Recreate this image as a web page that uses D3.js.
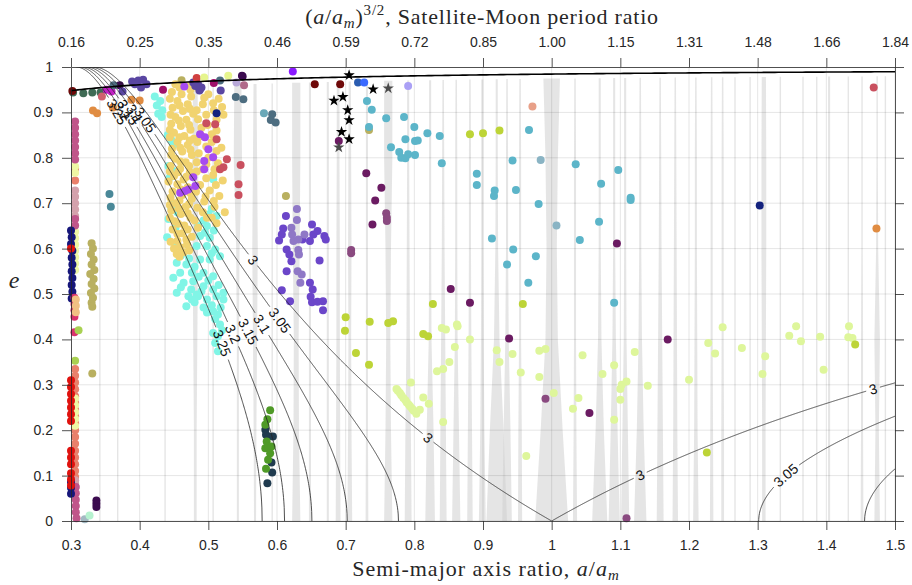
<!DOCTYPE html>
<html><head><meta charset="utf-8">
<script src="https://cdn.jsdelivr.net/npm/d3@7"></script>
<style>body{margin:0;background:#fff;}svg{display:block;}</style>
</head><body>
<svg id="chart" width="912" height="585"></svg>
<script>
// ---------------- DATA ----------------
const aTicks = [0.3,0.4,0.5,0.6,0.7,0.8,0.9,1.0,1.1,1.2,1.3,1.4,1.5];
const aTickLabels = ["0.3","0.4","0.5","0.6","0.7","0.8","0.9","1","1.1","1.2","1.3","1.4","1.5"];
const periodTickLabels = ["0.16","0.25","0.35","0.46","0.59","0.72","0.85","1.00","1.15","1.31","1.48","1.66","1.84"];
const eTicks = [0,0.1,0.2,0.3,0.4,0.5,0.6,0.7,0.8,0.9,1];
const eTickLabels = ["0","0.1","0.2","0.3","0.4","0.5","0.6","0.7","0.8","0.9","1"];

const contourLevels = [3, 3.05, 3.1, 3.15, 3.2, 3.25];
const contourLabelLevels = [3, 3, 3, 3, 3.05, 3.05, 3.05, 3.1, 3.1, 3.15, 3.15, 3.2, 3.2, 3.25, 3.25];
const contourLabelA      = [0.565, 0.82, 1.129, 1.468, 0.604, 0.408, 1.341, 0.578, 0.393, 0.558, 0.383, 0.536, 0.374, 0.520, 0.367];
const periLineQ = 0.0156; // e = 1 - q/a

const bandE = [0,0.2,0.4,0.6,0.8,1.0];
const bandCenters = [0.342,0.368,0.437,0.481,0.507,0.543,0.568,0.593,0.628,0.648,0.674,0.689,0.706,0.731,0.762,0.791,0.823,0.842,0.861,0.881,0.899,0.920,0.935,0.954,1.000,1.034,1.070,1.091,1.107,1.129,1.158,1.180,1.210,1.233,1.249,1.267,1.289,1.309,1.333,1.366,1.386,1.404,1.432,1.452,1.474,1.486];
const bandWidths = [
 [0.002,0.002,0.002,0.002,0.002,0.002],[0.002,0.002,0.002,0.002,0.002,0.002],[0.002,0.002,0.002,0.002,0.002,0.002],
 [0.004,0.004,0.006,0.008,0.009,0.006],[0.002,0.002,0.002,0.002,0.002,0.002],[0.003,0.003,0.003,0.005,0.012,0.010],
 [0.003,0.004,0.006,0.008,0.006,0.004],[0.002,0.002,0.002,0.002,0.002,0.002],[0.012,0.008,0.007,0.010,0.012,0.012],
 [0.003,0.003,0.003,0.003,0.003,0.003],[0.003,0.003,0.003,0.003,0.003,0.003],[0.007,0.006,0.005,0.005,0.004,0.004],
 [0.007,0.005,0.004,0.005,0.004,0.003],[0.004,0.003,0.003,0.003,0.003,0.003],[0.012,0.008,0.006,0.008,0.012,0.012],
 [0.010,0.008,0.005,0.004,0.003,0.003],[0.014,0.010,0.004,0.003,0.003,0.003],[0.010,0.008,0.006,0.004,0.003,0.002],
 [0.012,0.008,0.004,0.003,0.003,0.002],[0.008,0.006,0.004,0.003,0.003,0.002],[0.010,0.006,0.004,0.003,0.003,0.003],
 [0.030,0.020,0.008,0.004,0.003,0.003],[0.014,0.010,0.005,0.003,0.003,0.002],[0.006,0.005,0.003,0.003,0.003,0.002],
 [0.048,0.032,0.018,0.015,0.018,0.025],[0.006,0.004,0.003,0.003,0.003,0.002],[0.022,0.012,0.005,0.003,0.003,0.003],
 [0.016,0.010,0.005,0.003,0.003,0.003],[0.012,0.008,0.004,0.003,0.003,0.003],[0.018,0.010,0.005,0.003,0.003,0.002],
 [0.010,0.008,0.006,0.004,0.003,0.002],[0.008,0.006,0.005,0.004,0.003,0.002],[0.008,0.005,0.004,0.003,0.003,0.002],
 [0.005,0.004,0.003,0.003,0.003,0.002],[0.004,0.004,0.003,0.003,0.003,0.002],[0.002,0.002,0.002,0.002,0.002,0.002],
 [0.002,0.002,0.002,0.002,0.002,0.002],[0.005,0.005,0.006,0.007,0.007,0.006],[0.002,0.002,0.002,0.002,0.002,0.002],
 [0.002,0.002,0.002,0.002,0.002,0.002],[0.002,0.002,0.002,0.002,0.002,0.002],[0.003,0.003,0.003,0.003,0.003,0.003],
 [0.002,0.002,0.002,0.002,0.002,0.002],[0.004,0.003,0.003,0.002,0.002,0.002],[0.008,0.005,0.008,0.003,0.002,0.002],
 [0.002,0.002,0.002,0.002,0.002,0.002]];

// satellites (a/a_m, e)
const leftSalmon = [[0.306,0.776],[0.306,0.750],[0.306,0.335],[0.306,0.320],[0.306,0.305],[0.306,0.290],[0.306,0.275],[0.306,0.260],[0.306,0.245],[0.306,0.230],[0.306,0.215],[0.306,0.200],[0.306,0.185],[0.306,0.170],[0.306,0.155],[0.306,0.140],[0.306,0.125],[0.306,0.110],[0.306,0.097]];
const leftPaleYellow = [[0.306,0.781],[0.306,0.767],[0.306,0.637],[0.306,0.623],[0.306,0.609],[0.306,0.595],[0.306,0.581],[0.306,0.567],[0.306,0.553],[0.306,0.270],[0.306,0.255],[0.306,0.240],[0.306,0.225],[0.306,0.210]];
const leftLightPink = [[0.306,0.728],[0.306,0.714],[0.306,0.700],[0.306,0.686],[0.306,0.672],[0.306,0.090],[0.306,0.082]];
const leftMauve = [[0.306,0.880],[0.306,0.866],[0.306,0.852],[0.306,0.838],[0.306,0.824],[0.306,0.810],[0.306,0.796],[0.306,0.665],[0.306,0.651],[0.307,0.075],[0.307,0.061],[0.307,0.047],[0.307,0.033],[0.307,0.019],[0.308,0.006]];
const leftNavy = [[0.300,0.640],[0.301,0.625],[0.300,0.610],[0.302,0.595],[0.301,0.580],[0.302,0.565],[0.301,0.550],[0.302,0.535],[0.301,0.520],[0.302,0.505],[0.301,0.490],[0.300,0.086],[0.300,0.073],[0.300,0.060]];
const leftRed = [[0.300,0.600],[0.300,0.310],[0.300,0.295],[0.300,0.280],[0.300,0.265],[0.300,0.250],[0.300,0.235],[0.300,0.220],[0.300,0.155],[0.300,0.140],[0.300,0.125],[0.300,0.105],[0.300,0.092],[0.300,0.078]];
const leftCrimson = [[0.305,0.492],[0.305,0.478],[0.305,0.464],[0.305,0.450],[0.305,0.416]];
const leftPeach = [[0.307,0.488],[0.307,0.474],[0.307,0.460]];
const leftLightGreen = [[0.311,0.420],[0.306,0.353]];
const olivePts = [[0.330,0.612],[0.332,0.600],[0.329,0.588],[0.333,0.576],[0.330,0.565],[0.334,0.553],[0.328,0.544],[0.333,0.533],[0.330,0.522],[0.334,0.512],[0.329,0.502],[0.332,0.492],[0.330,0.481],[0.331,0.472],[0.331,0.325],[0.613,0.716],[0.461,0.971],[0.734,0.861]];
const grayMint = [[0.320,0.004]];
const mintPts = [[0.327,0.012]];
const darkPurplePts = [[0.337,0.045],[0.337,0.038],[0.337,0.031],[0.371,0.960],[0.549,0.981],[0.550,0.979]];
const topRowGreen = [[0.303,0.944],[0.318,0.942],[0.331,0.944],[0.343,0.944]];
const darkRedPts = [[0.302,0.947],[0.655,0.962],[0.692,0.962]];
const pinkTop = [[0.345,0.935]];
const orangePts = [[0.332,0.904],[0.338,0.898],[0.361,0.911],[0.388,0.928],[0.400,0.926],[1.473,0.644]];
const tealDarkPts = [[0.356,0.720],[0.358,0.692]];
const magentaPts = [[0.359,0.946],[0.352,0.950]];
const indigoPts = [[0.375,0.946],[0.389,0.968],[0.398,0.970],[0.405,0.972],[0.410,0.962],[0.402,0.955],[0.393,0.962],[0.478,0.966],[0.485,0.962],[0.490,0.955],[0.487,0.948],[0.481,0.958],[0.488,0.951],[0.518,0.948]];
const grayBluePts = [[0.362,0.960],[0.517,0.970],[0.540,0.934],[0.551,0.929],[0.593,0.896],[0.591,0.883],[0.598,0.878]];
const lightTealPts = [[0.581,0.898]];
const magentaDarkPts = [[0.434,0.950],[0.508,0.965]];
const redTopPts = [[0.483,0.976]];
const paleTopPts = [[0.494,0.977],[0.529,0.981]];
const purpleBrightPts = [[0.465,0.957],[0.488,0.852],[0.495,0.845],[0.500,0.819],[0.507,0.801],[0.494,0.793],[0.494,0.775],[0.478,0.757],[0.481,0.738],[0.459,0.723],[0.466,0.727],[0.471,0.730]];
const violetBrightPts = [[0.623,0.990]];
const navyPts = [[0.512,0.898],[1.303,0.695]];
const lilacPts = [[0.541,0.966]];
const mauveTopPts = [[0.552,0.960]];
const rosePts = [[0.497,0.876],[0.510,0.874],[0.512,0.841],[0.527,0.797],[0.517,0.775],[0.522,0.779],[0.547,0.784],[0.544,0.742],[0.544,0.718],[1.469,0.955]];
const bluePts = [[0.718,0.966]];
const blueBrightPts = [[0.727,0.966]];
const lavenderPts = [[0.791,0.958]];
const salmonTopPts = [[0.972,0.913]];
const cyanPts = [
 [0.422,0.935],[0.430,0.925],[0.425,0.915],[0.433,0.905],[0.427,0.897],[0.432,0.890],[0.441,0.850],[0.446,0.840],[0.449,0.828],
 [0.442,0.782],[0.449,0.771],[0.444,0.757],[0.507,0.753],[0.447,0.700],[0.455,0.680],[0.442,0.665],[0.452,0.645],[0.440,0.625],
 [0.500,0.675],[0.512,0.672],[0.485,0.650],[0.498,0.650],[0.488,0.628],[0.502,0.624],[0.483,0.606],[0.498,0.606],[0.510,0.598],
 [0.488,0.576],[0.502,0.576],[0.517,0.583],[0.454,0.569],[0.468,0.565],[0.459,0.547],[0.476,0.547],[0.493,0.547],[0.507,0.539],
 [0.449,0.536],[0.464,0.525],[0.478,0.528],[0.493,0.517],[0.507,0.510],[0.522,0.503],[0.454,0.503],[0.471,0.495],[0.485,0.495],
 [0.468,0.473],[0.476,0.488],[0.483,0.499],[0.490,0.506],[0.498,0.459],[0.507,0.462],[0.514,0.455],[0.522,0.488],[0.512,0.495],
 [0.517,0.433],[0.507,0.414],[0.514,0.407],[0.510,0.392],[0.514,0.374],
 [0.446,0.690],[0.452,0.610],[0.460,0.585],[0.472,0.578],[0.480,0.560],[0.486,0.538],[0.500,0.530],[0.515,0.520],[0.460,0.515],
 [0.475,0.510],[0.498,0.488],[0.480,0.482],[0.505,0.475],[0.518,0.470],[0.493,0.470],[0.510,0.445],[0.520,0.420],[0.505,0.590],
 [0.495,0.635],[0.508,0.640],[0.493,0.662],[0.505,0.688]];
const goldPts = [
 [0.452,0.962],[0.468,0.958],[0.447,0.945],[0.461,0.940],[0.475,0.935],[0.455,0.925],[0.470,0.918],[0.448,0.910],[0.463,0.903],[0.478,0.897],
 [0.452,0.890],[0.468,0.884],[0.446,0.875],[0.460,0.870],[0.474,0.862],[0.450,0.855],[0.465,0.848],[0.479,0.842],[0.455,0.835],[0.470,0.828],
 [0.447,0.820],[0.462,0.814],[0.476,0.806],[0.452,0.798],[0.467,0.790],[0.445,0.782],[0.459,0.776],[0.473,0.768],[0.450,0.760],[0.464,0.752],
 [0.455,0.742],[0.470,0.735],[0.448,0.726],[0.462,0.718],[0.476,0.710],[0.453,0.700],[0.467,0.692],[0.446,0.684],[0.460,0.676],[0.474,0.668],
 [0.451,0.660],[0.465,0.651],[0.448,0.642],[0.462,0.634],[0.476,0.626],[0.455,0.617],[0.469,0.609],[0.450,0.600],[0.464,0.592],[0.458,0.582],
 [0.487,0.950],[0.500,0.940],[0.515,0.930],[0.492,0.918],[0.508,0.905],[0.522,0.895],[0.485,0.885],[0.499,0.872],[0.512,0.860],[0.490,0.848],
 [0.505,0.835],[0.519,0.822],[0.486,0.810],[0.500,0.800],[0.514,0.788],[0.492,0.775],[0.507,0.762],[0.521,0.750],[0.488,0.740],[0.502,0.728],
 [0.516,0.716],[0.494,0.704],[0.509,0.692],[0.524,0.680],[0.498,0.668],[0.512,0.656],[0.485,0.646],
 [0.458,0.955],[0.474,0.950],[0.444,0.930],[0.458,0.915],[0.473,0.908],[0.445,0.895],[0.457,0.882],[0.472,0.872],[0.444,0.862],[0.458,0.845],
 [0.473,0.838],[0.444,0.845],[0.459,0.822],[0.474,0.818],[0.446,0.806],[0.459,0.792],[0.472,0.782],[0.456,0.768],[0.444,0.770],[0.468,0.758],
 [0.442,0.748],[0.460,0.730],[0.474,0.722],[0.445,0.712],[0.458,0.706],[0.472,0.698],[0.444,0.696],[0.457,0.688],[0.470,0.678],[0.444,0.668],
 [0.456,0.655],[0.470,0.642],[0.455,0.632],[0.468,0.620],[0.445,0.615],[0.459,0.603],[0.472,0.596],[0.454,0.588],
 [0.494,0.932],[0.507,0.920],[0.520,0.912],[0.483,0.905],[0.497,0.895],[0.512,0.884],[0.490,0.866],[0.505,0.852],[0.484,0.835],[0.497,0.825],
 [0.512,0.815],[0.483,0.790],[0.497,0.786],[0.509,0.775],[0.483,0.770],[0.497,0.755],[0.511,0.740],[0.482,0.725],[0.496,0.715],[0.508,0.705],
 [0.484,0.690],[0.492,0.680],[0.505,0.668],[0.480,0.662]];
const tealPts = [[0.731,0.925],[0.738,0.906],[0.759,0.887],[0.785,0.890],[0.734,0.868],[0.800,0.868],[0.819,0.854],[0.837,0.848],[0.787,0.841],[0.801,0.837],[0.805,0.838],[0.766,0.823],[0.778,0.813],[0.781,0.800],[0.787,0.799],[0.791,0.808],[0.801,0.806],[0.840,0.788],[0.891,0.765],[0.891,0.740],[0.917,0.728],[0.916,0.716],[0.913,0.622],[0.967,0.861],[0.943,0.794],[1.035,0.786],[1.097,0.773],[1.072,0.743],[0.948,0.729],[0.981,0.698],[1.115,0.712],[1.115,0.707],[1.069,0.659],[1.041,0.619],[0.944,0.598],[0.977,0.583],[0.935,0.565],[0.966,0.525],[1.091,0.481]];
const tealGrayPts = [[0.984,0.795],[1.007,0.651]];
const limePts = [[0.881,0.852],[0.900,0.854],[0.924,0.860],[0.700,0.449],[0.699,0.419],[0.735,0.439],[0.762,0.436],[0.769,0.440],[0.827,0.478],[0.813,0.412],[0.820,0.407],[0.715,0.370],[0.734,0.344],[0.958,0.478],[1.442,0.389],[1.226,0.151]];
const palePts = [[0.840,0.425],[0.846,0.422],[0.862,0.433],[0.863,0.429],[0.881,0.400],[0.859,0.383],[0.851,0.350],[0.842,0.335],[0.833,0.330],[0.795,0.305],[0.774,0.291],[0.776,0.287],[0.779,0.282],[0.781,0.277],[0.784,0.271],[0.787,0.266],[0.789,0.261],[0.792,0.256],[0.794,0.252],[0.797,0.247],[0.799,0.243],[0.803,0.236],[0.808,0.245],[0.813,0.272],[0.821,0.258],[0.842,0.218],[0.920,0.376],[0.924,0.350],[0.943,0.368],[0.955,0.327],[0.982,0.375],[0.991,0.379],[0.982,0.317],[1.003,0.282],[1.039,0.271],[1.031,0.247],[1.045,0.365],[0.963,0.143],[1.074,0.324],[1.091,0.343],[1.100,0.291],[1.102,0.300],[1.109,0.307],[1.100,0.267],[1.091,0.223],[1.121,0.372],[1.140,0.298],[1.200,0.311],[1.228,0.392],[1.238,0.369],[1.249,0.427],[1.277,0.381],[1.311,0.363],[1.307,0.324],[1.346,0.408],[1.356,0.429],[1.363,0.396],[1.391,0.406],[1.396,0.333],[1.433,0.429],[1.432,0.405],[1.438,0.403]];
const plumPts = [[0.730,0.766],[0.752,0.734],[0.743,0.706],[0.739,0.653],[0.690,0.837],[0.853,0.511],[0.881,0.481],[0.938,0.402],[1.055,0.238],[1.169,0.400],[1.095,0.611]];
const mauvePts = [[0.759,0.678],[0.760,0.661],[0.760,0.668],[0.708,0.597],[0.708,0.590],[0.991,0.269],[1.109,0.006]];
const violetPts = [[0.613,0.672],[0.609,0.644],[0.607,0.631],[0.603,0.618],[0.637,0.620],[0.651,0.653],[0.653,0.631],[0.659,0.639],[0.648,0.617],[0.669,0.628],[0.671,0.620],[0.614,0.598],[0.618,0.587],[0.621,0.572],[0.614,0.550],[0.662,0.574],[0.648,0.525],[0.652,0.510],[0.607,0.508],[0.619,0.484],[0.649,0.494],[0.651,0.482],[0.659,0.483],[0.667,0.484],[0.667,0.464]];
const violetLightPts = [[0.629,0.687],[0.629,0.663],[0.621,0.646],[0.622,0.631],[0.624,0.617],[0.631,0.620],[0.640,0.631],[0.631,0.597],[0.632,0.587],[0.630,0.550],[0.636,0.543],[0.634,0.525]];
const darkNavyPts = [[0.583,0.201],[0.587,0.186],[0.594,0.186],[0.584,0.190],[0.592,0.129],[0.593,0.107],[0.586,0.083]];
const greenPts = [[0.590,0.244],[0.586,0.224],[0.583,0.212],[0.585,0.175],[0.583,0.160],[0.587,0.164],[0.592,0.164],[0.590,0.149],[0.587,0.135],[0.584,0.115]];
const starPts = [[0.705,0.982],[0.740,0.951],[0.696,0.934],[0.683,0.926],[0.703,0.905],[0.705,0.883],[0.694,0.857],[0.705,0.841]];
const starGrayPts = [[0.762,0.953],[0.690,0.823]];

// ---------------- SERIES STYLE TABLE ----------------
const series = [
 {pts: leftSalmon, color:"#e9806b"}, {pts: leftPaleYellow, color:"#eff7a4"}, {pts: leftLightPink, color:"#d4a1ac"},
 {pts: leftMauve, color:"#c0558a"}, {pts: leftNavy, color:"#16167a"}, {pts: leftRed, color:"#e0120e"},
 {pts: leftCrimson, color:"#d9326c"}, {pts: leftPeach, color:"#f1c083"}, {pts: leftLightGreen, color:"#a9d152"},
 {pts: olivePts, color:"#b9b060"}, {pts: grayMint, color:"#a3b9c2"}, {pts: mintPts, color:"#b6f2cf"},
 {pts: darkPurplePts, color:"#3b0b4f"}, {pts: topRowGreen, color:"#3f6b55"}, {pts: darkRedPts, color:"#6e0808"},
 {pts: pinkTop, color:"#d0606e"}, {pts: orangePts, color:"#e08c42"}, {pts: tealDarkPts, color:"#4a8898"},
 {pts: magentaPts, color:"#c21fc4"}, {pts: cyanPts, color:"#80f5e6"}, {pts: goldPts, color:"#f1d370"},
 {pts: indigoPts, color:"#5a46a2"}, {pts: grayBluePts, color:"#4d6d80"}, {pts: lightTealPts, color:"#6aa8b8"},
 {pts: magentaDarkPts, color:"#a0106a"}, {pts: redTopPts, color:"#d04040"}, {pts: paleTopPts, color:"#e6f58e"},
 {pts: purpleBrightPts, color:"#a64af0"}, {pts: violetBrightPts, color:"#8a1aff"}, {pts: navyPts, color:"#14237e"},
 {pts: lilacPts, color:"#b8a8d8"}, {pts: mauveTopPts, color:"#b06a8a"}, {pts: rosePts, color:"#c9505f"},
 {pts: bluePts, color:"#2a5cb0"}, {pts: blueBrightPts, color:"#3a6aff"}, {pts: lavenderPts, color:"#aaa0f5"},
 {pts: salmonTopPts, color:"#e8a088"}, {pts: tealPts, color:"#5cb5c9"}, {pts: tealGrayPts, color:"#8ab4c4"},
 {pts: palePts, color:"#def69b"}, {pts: limePts, color:"#bdd437"}, {pts: plumPts, color:"#6b1b62"},
 {pts: mauvePts, color:"#8a4a80"}, {pts: violetPts, color:"#6b46c9"}, {pts: violetLightPts, color:"#8f78c6"},
 {pts: darkNavyPts, color:"#203b4f"}, {pts: greenPts, color:"#4f9a27"}
];

// ---------------- DRAW ----------------
const svg = d3.select("#chart");
const x = d3.scaleLinear().domain([0.3,1.5]).range([71,895]);
const y = d3.scaleLinear().domain([0,1]).range([521,67]);
const FONT = "'Liberation Sans', Arial, Helvetica, sans-serif";
const SERIF = "'Liberation Serif', 'DejaVu Serif', serif";
const axisColor = "#262626";

svg.append("defs").append("clipPath").attr("id","plotclip")
  .append("rect").attr("x",x(0.3)).attr("y",y(1)).attr("width",x(1.5)-x(0.3)).attr("height",y(0)-y(1));

// resonance bands
const gBands = svg.append("g").attr("clip-path","url(#plotclip)");
bandCenters.forEach((ac,i)=>{
  const wScale = d3.scaleLinear().domain(bandE).range(bandWidths[i]);
  const eTop = 1 - periLineQ/ac - 0.01;
  const es = d3.range(0, eTop, 0.01).concat([eTop]);
  const left = es.map(e=>[x(ac - wScale(e)/2), y(e)]);
  const right = es.slice().reverse().map(e=>[x(ac + wScale(e)/2), y(e)]);
  gBands.append("path").attr("d", d3.line()(left.concat(right)) + "Z")
    .attr("fill","#cfcfcf").attr("fill-opacity",0.55).attr("stroke","none");
});

// grid
const gGrid = svg.append("g").attr("clip-path","url(#plotclip)");
gGrid.selectAll("line.vx").data(aTicks).join("line")
  .attr("x1",d=>x(d)).attr("x2",d=>x(d)).attr("y1",y(0)).attr("y2",y(1))
  .attr("stroke","#000").attr("stroke-opacity",0.1).attr("stroke-width",1);
gGrid.selectAll("line.hy").data(eTicks).join("line")
  .attr("y1",d=>y(d)).attr("y2",d=>y(d)).attr("x1",x(0.3)).attr("x2",x(1.5))
  .attr("stroke","#000").attr("stroke-opacity",0.1).attr("stroke-width",1);

// dots
const gDots = svg.append("g");
series.forEach(s=>{
  gDots.append("g").selectAll("circle").data(s.pts).join("circle")
    .attr("cx",d=>x(d[0])).attr("cy",d=>y(d[1])).attr("r",4).attr("fill",s.color);
});

// Tisserand contours
function tisE(T,a){ const u=T-1/a; if(u<0) return NaN; const f=u*u/(4*a); if(f>1) return NaN; return Math.sqrt(1-f); }
function clampE(T,a){ const u=Math.max(0,T-1/a); const f=Math.min(1,u*u/(4*a)); return Math.sqrt(1-f); }
function bisect(T,aBad,aGood){ let lo=aBad, hi=aGood; for(let k=0;k<40;k++){ const m=(lo+hi)/2; if(isNaN(tisE(T,m))) lo=m; else hi=m; } return hi; }
function branches(T){
  const out=[]; let cur=null, prevA=null, prevValid=false;
  const n=2400;
  for(let i=0;i<=n;i++){
    const a=0.3+1.2*i/n; const e=tisE(T,a); const valid=!isNaN(e);
    if(valid && !prevValid){ cur=[]; out.push(cur); if(prevA!==null){ const b=bisect(T,prevA,a); cur.push([b,clampE(T,b)]); } }
    if(!valid && prevValid){ const b=bisect(T,a,prevA); cur.push([b,clampE(T,b)]); }
    if(valid) cur.push([a,e]);
    prevValid=valid; prevA=a;
  }
  return out;
}
const gCont = svg.append("g").attr("clip-path","url(#plotclip)");
const gLab = svg.append("g");
const labels = contourLabelLevels.map((T,i)=>{
  const a0=contourLabelA[i], h=0.002;
  const e0=tisE(T,a0);
  const px=x(a0), py=y(e0);
  const dx=x(a0+h)-x(a0-h), dy=y(tisE(T,a0+h))-y(tisE(T,a0-h));
  let ang=Math.atan2(dy,dx)*180/Math.PI; if(ang>90) ang-=180; if(ang<-90) ang+=180;
  const txt = gLab.append("text").attr("x",0).attr("y",0)
    .attr("transform",`translate(${px},${py}) rotate(${ang})`)
    .attr("text-anchor","middle").attr("dy","0.35em")
    .attr("font-family",FONT).attr("font-size",14).attr("fill","#111").text(String(T));
  const len = txt.node().getComputedTextLength();
  return {T, px, py, r: len/2 + 3};
});
contourLevels.forEach(T=>{
  const labs = labels.filter(l=>l.T===T);
  branches(T).forEach(br=>{
    let seg=[];
    const segs=[seg];
    br.forEach(p=>{
      const X=x(p[0]), Y=y(p[1]);
      const inGap = labs.some(l=>Math.hypot(X-l.px,Y-l.py)<l.r);
      if(inGap){ if(seg.length){ seg=[]; segs.push(seg);} }
      else seg.push([X,Y]);
    });
    segs.filter(s=>s.length>1).forEach(s=>{
      gCont.append("path").attr("d",d3.line()(s)).attr("fill","none")
        .attr("stroke","#222").attr("stroke-width",0.8);
    });
  });
});

// pericentre line
const periA = d3.range(0.3, 1.5001, 0.005);
svg.append("path").attr("clip-path","url(#plotclip)")
  .attr("d", d3.line().x(a=>x(a)).y(a=>y(1-periLineQ/a))(periA))
  .attr("fill","none").attr("stroke","#000").attr("stroke-width",1.6);

// stars
const star = d3.symbol().type(d3.symbolStar).size(40);
svg.append("g").selectAll("path").data(starPts).join("path")
  .attr("d",star).attr("transform",d=>`translate(${x(d[0])},${y(d[1])})`).attr("fill","#000");
svg.append("g").selectAll("path").data(starGrayPts).join("path")
  .attr("d",star).attr("transform",d=>`translate(${x(d[0])},${y(d[1])})`).attr("fill","#4a4a4a");

// axes
function styleAxis(g){
  g.selectAll("path.domain").attr("stroke",axisColor).attr("stroke-width",0.8);
  g.selectAll(".tick line").attr("stroke",axisColor).attr("stroke-width",0.8);
  g.selectAll(".tick text").attr("fill",axisColor).attr("font-family",FONT).attr("font-size",14);
}
const xb = svg.append("g").attr("transform",`translate(0,${y(0)})`)
  .call(d3.axisBottom(x).tickValues(aTicks).tickFormat((d,i)=>aTickLabels[i]).tickSize(9).tickSizeOuter(0).tickPadding(10));
styleAxis(xb);
const xt = svg.append("g").attr("transform",`translate(0,${y(1)})`)
  .call(d3.axisTop(x).tickValues(aTicks).tickFormat((d,i)=>periodTickLabels[i]).tickSize(9).tickSizeOuter(0).tickPadding(11));
styleAxis(xt);
const yl = svg.append("g").attr("transform",`translate(${x(0.3)},0)`)
  .call(d3.axisLeft(y).tickValues(eTicks).tickFormat((d,i)=>eTickLabels[i]).tickSize(9).tickSizeOuter(0).tickPadding(9));
styleAxis(yl);
const yr = svg.append("g").attr("transform",`translate(${x(1.5)},0)`)
  .call(d3.axisRight(y).tickValues(eTicks).tickFormat("").tickSize(9).tickSizeOuter(0));
styleAxis(yr);

// titles
const tTop = svg.append("text").attr("x",482).attr("y",24).attr("text-anchor","middle")
  .attr("font-family",SERIF).attr("font-size",22).attr("letter-spacing",0.8).attr("fill",axisColor);
tTop.append("tspan").text("(");
tTop.append("tspan").attr("font-style","italic").text("a");
tTop.append("tspan").text("/");
tTop.append("tspan").attr("font-style","italic").text("a");
tTop.append("tspan").attr("font-style","italic").attr("font-size",15).attr("dy",4).text("m");
tTop.append("tspan").attr("dy",-4).text(")");
tTop.append("tspan").attr("font-size",15).attr("dy",-9).text("3/2");
tTop.append("tspan").attr("dy",9).text(", Satellite-Moon period ratio");

const tBot = svg.append("text").attr("x",486).attr("y",576).attr("text-anchor","middle")
  .attr("font-family",SERIF).attr("font-size",22).attr("letter-spacing",1).attr("fill",axisColor);
tBot.append("tspan").text("Semi-major axis ratio, ");
tBot.append("tspan").attr("font-style","italic").text("a");
tBot.append("tspan").text("/");
tBot.append("tspan").attr("font-style","italic").text("a");
tBot.append("tspan").attr("font-style","italic").attr("font-size",15).attr("dy",4).text("m");

svg.append("text").attr("x",14).attr("y",288).attr("text-anchor","middle")
  .attr("font-family",SERIF).attr("font-style","italic").attr("font-size",24).attr("fill",axisColor).text("e");
</script>
</body></html>
